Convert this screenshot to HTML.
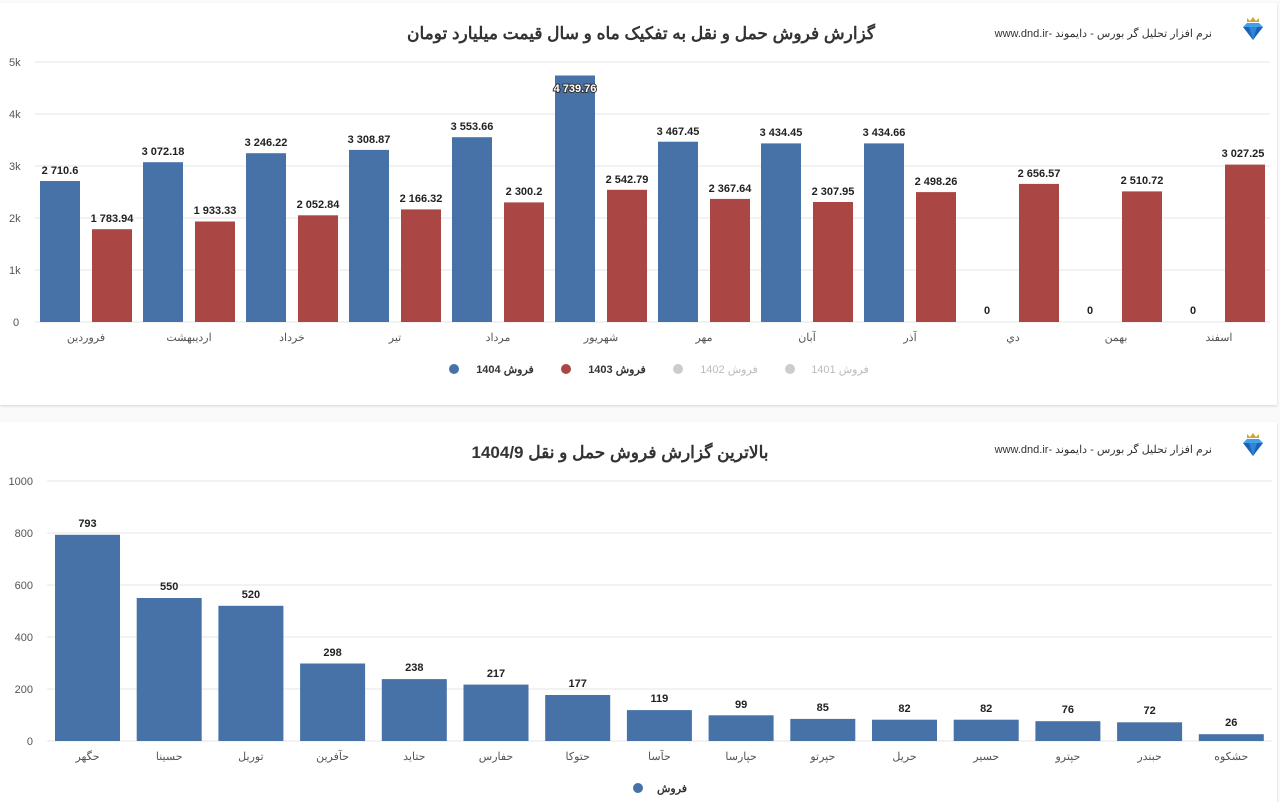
<!DOCTYPE html>
<html><head><meta charset="utf-8"><style>
html,body{margin:0;padding:0;background:#fafafa;width:1280px;height:802px;overflow:hidden}
svg{display:block;font-family:"Liberation Sans","Noto Sans CJK SC",sans-serif}
</style></head><body>
<svg width="1280" height="802" viewBox="0 0 1280 802" xmlns="http://www.w3.org/2000/svg">
<defs><filter id="sh" x="-2%" y="-2%" width="104%" height="106%"><feDropShadow dx="0" dy="1" stdDeviation="1.2" flood-color="#000" flood-opacity="0.15"/></filter>
<g id="logo"><polygon points="-10,-4 10,-4 0,9" fill="#1e5fb8"/><polygon points="-10,-4 -6,-8 6,-8 10,-4" fill="#3fa2e8"/><polygon points="-4,-4 4,-4 0,9" fill="#2b86d8"/><polygon points="-6,-9 -6,-13 -3,-10 0,-14 3,-10 6,-13 6,-9" fill="#d4a23a"/></g></defs>
<rect x="0" y="3" width="1277" height="402" fill="#fff" filter="url(#sh)"/>
<rect x="0" y="422" width="1277" height="385" fill="#fff" filter="url(#sh)"/>
<g font-size="17" font-weight="bold" fill="#333" text-anchor="middle">
<text x="641" y="39">گزارش فروش حمل و نقل به تفکیک ماه و سال قیمت میلیارد تومان</text>
<text x="620" y="458">بالاترین گزارش فروش حمل و نقل 1404/9</text>
</g>
<g font-size="11" fill="#333" text-anchor="start" direction="rtl" unicode-bidi="embed">
<text x="1212" y="37" direction="rtl">نرم افزار تحلیل گر بورس - دایموند -www.dnd.ir</text>
<text x="1212" y="453" direction="rtl">نرم افزار تحلیل گر بورس - دایموند -www.dnd.ir</text>
</g>
<use href="#logo" x="1253" y="31"/><use href="#logo" x="1253" y="447"/>
<g stroke="#e6e6e6" stroke-width="1">
<line x1="35" y1="62" x2="1270" y2="62"/><line x1="35" y1="114" x2="1270" y2="114"/><line x1="35" y1="166" x2="1270" y2="166"/><line x1="35" y1="218" x2="1270" y2="218"/><line x1="35" y1="270" x2="1270" y2="270"/><line x1="35" y1="322" x2="1270" y2="322"/>
<line x1="47" y1="481" x2="1272" y2="481"/><line x1="47" y1="533" x2="1272" y2="533"/><line x1="47" y1="585" x2="1272" y2="585"/><line x1="47" y1="637" x2="1272" y2="637"/><line x1="47" y1="689" x2="1272" y2="689"/><line x1="47" y1="741" x2="1272" y2="741"/>
</g>
<g font-size="11" fill="#555" text-anchor="start">
<text x="9" y="66">5k</text><text x="9" y="118">4k</text><text x="9" y="170">3k</text><text x="9" y="222">2k</text><text x="9" y="274">1k</text><text x="13" y="326">0</text>
</g>
<g font-size="11" fill="#555" text-anchor="end">
<text x="33" y="485">1000</text><text x="33" y="537">800</text><text x="33" y="589">600</text><text x="33" y="641">400</text><text x="33" y="693">200</text><text x="33" y="745">0</text>
</g>
<g fill="#4672a8">
<rect x="40" y="181" width="40" height="141"/><rect x="143" y="162.2" width="40" height="159.8"/><rect x="246" y="153.2" width="40" height="168.8"/><rect x="349" y="149.9" width="40" height="172.1"/><rect x="452" y="137.2" width="40" height="184.8"/><rect x="555" y="75.5" width="40" height="246.5"/><rect x="658" y="141.7" width="40" height="180.3"/><rect x="761" y="143.4" width="40" height="178.6"/><rect x="864" y="143.4" width="40" height="178.6"/>
</g>
<g fill="#aa4644">
<rect x="92" y="229.2" width="40" height="92.8"/><rect x="195" y="221.5" width="40" height="100.5"/><rect x="298" y="215.3" width="40" height="106.7"/><rect x="401" y="209.4" width="40" height="112.6"/><rect x="504" y="202.4" width="40" height="119.6"/><rect x="607" y="189.8" width="40" height="132.2"/><rect x="710" y="198.9" width="40" height="123.1"/><rect x="813" y="202" width="40" height="120"/><rect x="916" y="192.1" width="40" height="129.9"/><rect x="1019" y="183.9" width="40" height="138.1"/><rect x="1122" y="191.4" width="40" height="130.6"/><rect x="1225" y="164.6" width="40" height="157.4"/>
</g>
<g font-size="11" font-weight="bold" fill="#222" text-anchor="middle">
<text x="60" y="174">2 710.6</text><text x="163" y="155">3 072.18</text><text x="266" y="146">3 246.22</text><text x="369" y="143">3 308.87</text><text x="472" y="130">3 553.66</text><text x="575" y="92" fill="#fff" stroke="#333" stroke-width="2" paint-order="stroke">4 739.76</text><text x="678" y="135">3 467.45</text><text x="781" y="136">3 434.45</text><text x="884" y="136">3 434.66</text><text x="987" y="314">0</text><text x="1090" y="314">0</text><text x="1193" y="314">0</text>
<text x="112" y="222">1 783.94</text><text x="215" y="214">1 933.33</text><text x="318" y="208">2 052.84</text><text x="421" y="202">2 166.32</text><text x="524" y="195">2 300.2</text><text x="627" y="183">2 542.79</text><text x="730" y="192">2 367.64</text><text x="833" y="195">2 307.95</text><text x="936" y="185">2 498.26</text><text x="1039" y="177">2 656.57</text><text x="1142" y="184">2 510.72</text><text x="1243" y="157">3 027.25</text>
</g>
<g font-size="11" fill="#555" text-anchor="middle">
<text x="86" y="341">فروردین</text><text x="189" y="341">اردیبهشت</text><text x="292" y="341">خرداد</text><text x="395" y="341">تیر</text><text x="498" y="341">مرداد</text><text x="601" y="341">شهریور</text><text x="704" y="341">مهر</text><text x="807" y="341">آبان</text><text x="910" y="341">آذر</text><text x="1013" y="341">دي</text><text x="1116" y="341">بهمن</text><text x="1219" y="341">اسفند</text>
</g>
<circle cx="454" cy="369" r="5" fill="#4672a8"/><circle cx="566" cy="369" r="5" fill="#aa4644"/><circle cx="678" cy="369" r="5" fill="#ccc"/><circle cx="790" cy="369" r="5" fill="#ccc"/>
<g font-size="11" text-anchor="middle" font-weight="bold">
<text x="505" y="373" fill="#333">فروش 1404</text><text x="617" y="373" fill="#333">فروش 1403</text><text x="729" y="373" fill="#bbb" font-weight="normal">فروش 1402</text><text x="840" y="373" fill="#bbb" font-weight="normal">فروش 1401</text>
</g>
<g fill="#4672a8">
<rect x="55" y="534.8" width="65" height="206.2"/><rect x="136.7" y="598" width="65" height="143"/><rect x="218.4" y="605.8" width="65" height="135.2"/><rect x="300.1" y="663.5" width="65" height="77.5"/><rect x="381.8" y="679.1" width="65" height="61.9"/><rect x="463.5" y="684.6" width="65" height="56.4"/><rect x="545.2" y="695" width="65" height="46"/><rect x="626.9" y="710.1" width="65" height="30.9"/><rect x="708.6" y="715.3" width="65" height="25.7"/><rect x="790.3" y="718.9" width="65" height="22.1"/><rect x="872" y="719.7" width="65" height="21.3"/><rect x="953.7" y="719.7" width="65" height="21.3"/><rect x="1035.4" y="721.2" width="65" height="19.8"/><rect x="1117.1" y="722.3" width="65" height="18.7"/><rect x="1198.8" y="734.2" width="65" height="6.8"/>
</g>
<g font-size="11" font-weight="bold" fill="#222" text-anchor="middle">
<text x="87.5" y="527">793</text><text x="169.2" y="590">550</text><text x="250.9" y="598">520</text><text x="332.6" y="656">298</text><text x="414.3" y="671">238</text><text x="496" y="677">217</text><text x="577.7" y="687">177</text><text x="659.4" y="702">119</text><text x="741.1" y="708">99</text><text x="822.8" y="711">85</text><text x="904.5" y="712">82</text><text x="986.2" y="712">82</text><text x="1067.9" y="713">76</text><text x="1149.6" y="714">72</text><text x="1231.3" y="726">26</text>
</g>
<g font-size="11" fill="#555" text-anchor="middle">
<text x="87.5" y="760">حگهر</text><text x="169.2" y="760">حسینا</text><text x="250.9" y="760">توریل</text><text x="332.6" y="760">حآفرین</text><text x="414.3" y="760">حتاید</text><text x="496" y="760">حفارس</text><text x="577.7" y="760">حتوکا</text><text x="659.4" y="760">حآسا</text><text x="741.1" y="760">حپارسا</text><text x="822.8" y="760">حپرتو</text><text x="904.5" y="760">حریل</text><text x="986.2" y="760">حسیر</text><text x="1067.9" y="760">حپترو</text><text x="1149.6" y="760">حبندر</text><text x="1231.3" y="760">حشکوه</text>
</g>
<circle cx="638" cy="788" r="5" fill="#4672a8"/>
<text x="672" y="792" font-size="11" font-weight="bold" fill="#333" text-anchor="middle">فروش</text>
</svg>
</body></html>
